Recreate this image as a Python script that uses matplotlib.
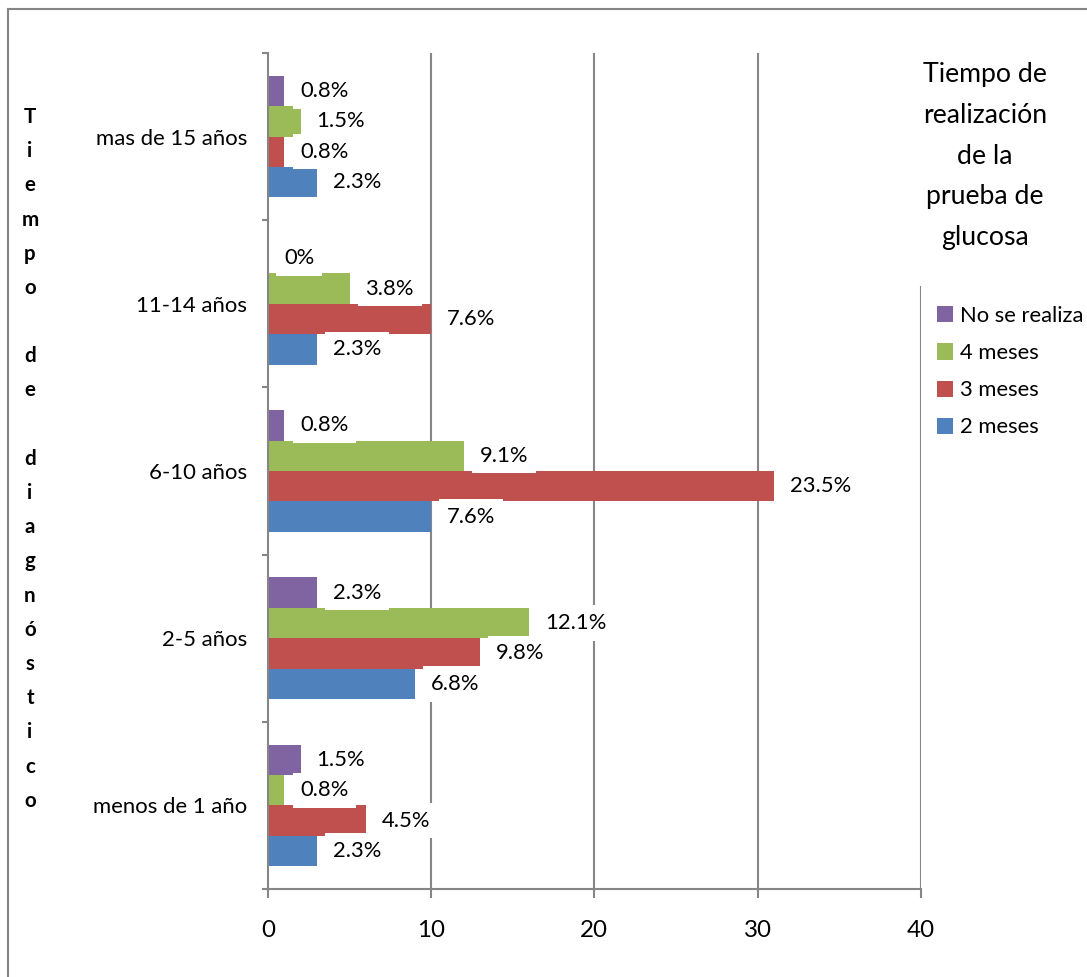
import matplotlib
matplotlib.use("Agg")
import matplotlib.pyplot as plt
from matplotlib.patches import Patch
from matplotlib.lines import Line2D
import numpy as np

# ---- data -------------------------------------------------------------
categories = ["menos de 1 año", "2-5 años", "6-10 años", "11-14 años", "mas de 15 años"]
dos_meses = [3, 9, 10, 3, 3]
tres_meses = [6, 13, 31, 10, 1]
cuatro_meses = [1, 16, 12, 5, 2]
no_se_realiza = [2, 3, 1, 0, 1]
series_names = ["2 meses", "3 meses", "4 meses", "No se realiza"]
x_ticks = [0, 10, 20, 30, 40]
y_title = "Tiempo de diagnóstico"
legend_title = ["Tiempo de", "realización", "de la", "prueba de", "glucosa"]

# ---- style ------------------------------------------------------------
plt.rcParams["font.family"] = ["Lato", "DejaVu Sans"]
colors = ["#4F81BD", "#C0504D", "#9BBB59", "#8064A2"]
grid_gray = "#868686"

W, H, DPI = 1087, 977, 100
fig = plt.figure(figsize=(W / DPI, H / DPI), dpi=DPI)


def fx(px):
    return px / W


def fy(py):
    return 1 - py / H


# plot area
left, right, top, bottom = 268, 920.7, 53, 889
ax = fig.add_axes([fx(left), fy(bottom), fx(right) - fx(left), fy(top) - fy(bottom)])

all_series = [dos_meses, tres_meses, cuatro_meses, no_se_realiza]
total = sum(sum(s) for s in all_series)


def pct_label(v):
    txt = f"{100 * v / total:.1f}".rstrip("0").rstrip(".")
    return txt + "%"


y = np.arange(len(categories))
bar_h = 0.182
handles = []
for i, (vals, name, color) in enumerate(zip(all_series, series_names, colors)):
    offset = (i - 1.5) * bar_h
    bars = ax.barh(y + offset, vals, height=bar_h, color=color, zorder=2, label=name)
    ax.bar_label(
        bars,
        labels=[pct_label(v) for v in vals],
        padding=11.5,
        fontsize=15.8,
        color="black",
        zorder=4,
        bbox=dict(boxstyle="square,pad=0.35", facecolor="white", edgecolor="none"),
    )
    handles.append(Patch(facecolor=color, edgecolor="none", label=name))

ax.set_xlim(0, 40)
ax.set_ylim(-0.5, len(categories) - 0.5)

# vertical gridlines; the one at 40 stops under the legend title
for xv in x_ticks[1:-1]:
    ax.axvline(xv, color=grid_gray, lw=1.5, zorder=1)
ax.axvline(x_ticks[-1], ymin=0, ymax=(bottom - 287) / (bottom - top), color=grid_gray, lw=1.5, zorder=1)

for s in ("top", "right"):
    ax.spines[s].set_visible(False)
for s in ("left", "bottom"):
    ax.spines[s].set_color(grid_gray)
    ax.spines[s].set_linewidth(1.5)

ax.set_xticks(x_ticks)
ax.set_xticklabels([str(t) for t in x_ticks])
ax.tick_params(axis="x", length=6.5, width=1.5, color=grid_gray, labelsize=17.4, pad=15.5)

ax.set_yticks(y)
ax.set_yticklabels(categories)
ax.set_yticks(np.arange(-0.5, len(categories), 1), minor=True)
ax.tick_params(axis="y", which="major", length=0, pad=15, labelsize=15.9)
ax.tick_params(axis="y", which="minor", length=4.3, width=1.5, color=grid_gray)

# vertical axis title, one letter per line
step = (806.7 - 123) / 20
row = 0
for word_i, word in enumerate(y_title.split(" ")):
    if word_i > 0:
        row += 1
    for ch in word:
        fig.text(fx(30), fy(123 + row * step), ch, ha="center", va="baseline",
                 fontsize=14.8, fontweight="bold")
        row += 1

# legend title
for i, line in enumerate(legend_title):
    fig.text(fx(985), fy(82 + i * 40.75), line, ha="center", va="baseline", fontsize=19.2)

fig.legend(
    handles=handles[::-1],
    loc="upper left",
    bbox_to_anchor=(fx(937), fy(306)),
    frameon=False,
    fontsize=15.8,
    handlelength=0.75,
    handleheight=0.75,
    handletextpad=0.3,
    labelspacing=0.78,
    borderaxespad=0,
    borderpad=0,
)

# chart frame (left and top edges)
fig.add_artist(Line2D([fx(8), fx(8)], [fy(9), 0], transform=fig.transFigure, color=grid_gray, lw=1.5))
fig.add_artist(Line2D([fx(8), 1], [fy(9), fy(9)], transform=fig.transFigure, color=grid_gray, lw=1.5))

fig.savefig("out.png", dpi=DPI)
